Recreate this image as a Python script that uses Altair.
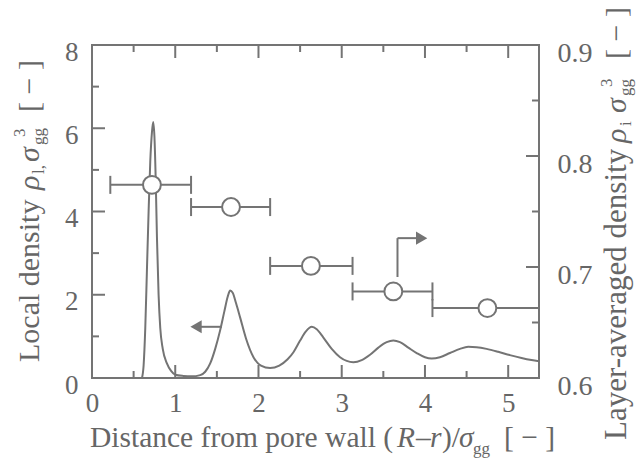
import altair as alt
import pandas as pd

# ---- local density profile (left axis) ----
dist = [0.60, 0.62, 0.64, 0.66, 0.68, 0.70, 0.72, 0.735, 0.75, 0.765, 0.78, 0.80,
        0.82, 0.85, 0.90, 0.95, 1.00, 1.10, 1.20, 1.30, 1.36, 1.42, 1.48, 1.54,
        1.59, 1.63, 1.66, 1.69, 1.73, 1.78, 1.85, 1.94, 2.03, 2.14, 2.25, 2.35,
        2.42, 2.50, 2.57, 2.64, 2.70, 2.78, 2.88, 2.98, 3.06, 3.14, 3.24, 3.34,
        3.44, 3.54, 3.62, 3.70, 3.80, 3.90, 4.00, 4.08, 4.18, 4.30, 4.42, 4.52,
        4.62, 4.74, 4.88, 5.02, 5.16, 5.28, 5.37]
local_density = [0.0, 0.3, 1.2, 2.6, 4.0, 5.2, 5.9, 6.15, 5.8, 4.8, 3.4, 2.0,
                 1.2, 0.7, 0.35, 0.17, 0.08, 0.05, 0.04, 0.07, 0.15, 0.35, 0.7, 1.15,
                 1.6, 1.95, 2.1, 2.05, 1.8, 1.45, 0.95, 0.5, 0.3, 0.24, 0.3, 0.45,
                 0.62, 0.9, 1.12, 1.23, 1.17, 0.97, 0.7, 0.5, 0.41, 0.38, 0.43, 0.56,
                 0.73, 0.86, 0.9, 0.86, 0.73, 0.6, 0.5, 0.47, 0.5, 0.6, 0.7, 0.75,
                 0.74, 0.7, 0.63, 0.55, 0.48, 0.43, 0.40]

# ---- layer-averaged density (right axis) ----
layer_center = [0.72, 1.67, 2.63, 3.62, 4.75]
layer_low = [0.22, 1.19, 2.14, 3.13, 4.09]
layer_high = [1.19, 2.14, 3.13, 4.09, 5.37]
layer_density = [0.774, 0.754, 0.701, 0.678, 0.663]

# ---- arrows pointing to the axis each series belongs to ----
left_arrow_x = [1.56, 1.28]
left_arrow_y = 1.23
left_head_x = 1.25
right_arrow_x = 3.67
right_arrow_y = [0.691, 0.726]
right_arrow_end = 3.93
right_head_x = 3.96

# ---- axis ticks ----
x_ticks = [0, 1, 2, 3, 4, 5]
x_minor = [0.5, 1.5, 2.5, 3.5, 4.5]
yl_ticks = [0, 2, 4, 6, 8]
yl_minor = [1, 3, 5, 7]
yr_ticks = [0.6, 0.7, 0.8, 0.9]
yr_minor = [0.65, 0.75, 0.85]

W, H = 447, 333
INK = "#747474"
TXT = "#666666"
FONT = "Liberation Serif"
MAJ, MIN = 13, 7

xs = alt.Scale(domain=[0, 5.37], nice=False, zero=False)
yls = alt.Scale(domain=[0, 8], nice=False, zero=True)
yrs = alt.Scale(domain=[0.6, 0.9], nice=False, zero=False)

xax = alt.Axis(values=x_ticks, format="d", ticks=False, tickSize=0, domain=False,
               grid=False, title=None, labelFont=FONT, labelFontSize=27,
               labelColor=TXT, labelPadding=12, labelFlush=False,
               labelOverlap=False)
ylax = alt.Axis(values=yl_ticks, format="d", orient="left", ticks=False, tickSize=0,
                domain=False, grid=False, title=None, labelFont=FONT,
                labelFontSize=27, labelColor=TXT, labelPadding=14, labelOffset=7,
                labelFlush=False, labelOverlap=False)
yrax = alt.Axis(values=yr_ticks, format=".1f", orient="right", ticks=False,
                tickSize=0, domain=False, grid=False, title=None, labelFont=FONT,
                labelFontSize=28, labelColor=TXT, labelPadding=18, labelOffset=8,
                labelFlush=False, labelOverlap=False)


def X(f):
    return alt.X(f, type="quantitative", scale=xs, axis=xax)


def YL(f):
    return alt.Y(f, type="quantitative", scale=yls, axis=ylax)


def YR(f):
    return alt.Y(f, type="quantitative", scale=yrs, axis=yrax)


profile = pd.DataFrame({"d": dist, "rho": local_density})
layers = pd.DataFrame({"c": layer_center, "lo": layer_low, "hi": layer_high,
                       "rho": layer_density})

curve = alt.Chart(profile).mark_line(color=INK, strokeWidth=2,
                                     interpolate="monotone").encode(
    x=X("d"), y=YL("rho"))

la = pd.DataFrame({"x0": [left_arrow_x[0]], "x1": [left_arrow_x[1]],
                   "hx": [left_head_x], "y": [left_arrow_y]})
left_shaft = alt.Chart(la).mark_rule(color=INK, strokeWidth=2).encode(
    x=X("x0"), x2="x1", y=YL("y"))
left_head = alt.Chart(la).mark_point(shape="triangle-left", filled=True,
                                     color=INK, opacity=1, size=170).encode(
    x=X("hx"), y=YL("y"))


def tick_rules(vals, length, side):
    df = pd.DataFrame({"v": vals})
    base = alt.Chart(df).mark_rule(color=INK, strokeWidth=2)
    if side == "bottom":
        return base.encode(x=X("v"), y=alt.value(H), y2=alt.value(H - length))
    if side == "top":
        return base.encode(x=X("v"), y=alt.value(0), y2=alt.value(length))
    if side == "left":
        return base.encode(y=YL("v"), x=alt.value(0), x2=alt.value(length))
    return base.encode(y=YR("v"), x=alt.value(W - length), x2=alt.value(W))


def label(text, x, y, size, italic=False, angle=0):
    props = dict(align="left", baseline="alphabetic", font=FONT, fontSize=size,
                 color=TXT, angle=angle)
    if italic:
        props["fontStyle"] = "italic"
    return alt.Chart(pd.DataFrame({"t": [text]})).mark_text(**props).encode(
        text="t:N", x=alt.value(x), y=alt.value(y))


OX, OY = 92, 45  # plot origin inside the page

titles = [
    # bottom axis title
    label("Distance from pore wall (", 90 - OX, 447 - OY, 29.5),
    label("R", 397 - OX, 447 - OY, 29.5, italic=True),
    label("–", 416 - OX, 447 - OY, 29.5),
    label("r", 430 - OX, 447 - OY, 29.5, italic=True),
    label(")/", 442 - OX, 447 - OY, 29.5),
    label("σ", 459 - OX, 447 - OY, 29.5, italic=True),
    label("gg", 473 - OX, 454 - OY, 17),
    label("[ − ]", 504 - OX, 447 - OY, 29.5),
    # left axis title (reads upward)
    label("Local density", 39 - OX, 362 - OY, 30, angle=270),
    label("ρ", 39 - OX, 190 - OY, 30, italic=True, angle=270),
    label("l,", 44 - OX, 174 - OY, 17, angle=270),
    label("σ", 39 - OX, 162 - OY, 30, italic=True, angle=270),
    label("gg", 44 - OX, 145 - OY, 17, angle=270),
    label("3", 25 - OX, 137 - OY, 17, angle=270),
    label("[ − ]", 39 - OX, 112 - OY, 30, angle=270),
    # right axis title (reads upward)
    label("Layer-averaged density", 626 - OX, 440 - OY, 31, angle=270),
    label("ρ", 626 - OX, 143 - OY, 30, italic=True, angle=270),
    label("i", 631 - OX, 126 - OY, 17, angle=270),
    label("σ", 626 - OX, 113 - OY, 30, italic=True, angle=270),
    label("gg", 631 - OX, 96 - OY, 17, angle=270),
    label("3", 612 - OX, 87 - OY, 17, angle=270),
    label("[ − ]", 626 - OX, 59 - OY, 30, angle=270),
]

left_part = alt.layer(
    curve, left_shaft, left_head,
    tick_rules(x_ticks, MAJ, "bottom"), tick_rules(x_minor, MIN, "bottom"),
    tick_rules(x_ticks, MAJ, "top"), tick_rules(x_minor, MIN, "top"),
    tick_rules(yl_ticks[1:-1], MAJ, "left"), tick_rules(yl_minor, MIN, "left"),
    *titles,
)

err = alt.Chart(layers).mark_rule(color=INK, strokeWidth=2).encode(
    x=X("lo"), x2="hi", y=YR("rho"))
cap_lo = alt.Chart(layers).mark_tick(orient="vertical", color=INK, thickness=2,
                                     size=18, opacity=1).encode(
    x=X("lo"), y=YR("rho"))
cap_hi = alt.Chart(layers).mark_tick(orient="vertical", color=INK, thickness=2,
                                     size=18, opacity=1).encode(
    x=X("hi"), y=YR("rho"))
circles = alt.Chart(layers).mark_point(shape="circle", filled=False, fill="white",
                                       fillOpacity=1, stroke=INK, strokeWidth=2,
                                       opacity=1, size=320).encode(
    x=X("c"), y=YR("rho"))

ra = pd.DataFrame({"x": [right_arrow_x], "y0": [right_arrow_y[0]],
                   "y1": [right_arrow_y[1]], "xe": [right_arrow_end],
                   "hx": [right_head_x]})
right_up = alt.Chart(ra).mark_rule(color=INK, strokeWidth=2).encode(
    x=X("x"), y=YR("y0"), y2="y1")
right_over = alt.Chart(ra).mark_rule(color=INK, strokeWidth=2).encode(
    x=X("x"), x2="xe", y=YR("y1"))
right_head = alt.Chart(ra).mark_point(shape="triangle-right", filled=True,
                                      color=INK, opacity=1, size=170).encode(
    x=X("hx"), y=YR("y1"))

right_part = alt.layer(
    err, cap_lo, cap_hi, circles, right_up, right_over, right_head,
    tick_rules(yr_ticks[1:-1], MAJ, "right"), tick_rules(yr_minor, MIN, "right"),
)

chart = alt.layer(left_part, right_part).resolve_scale(y="independent").properties(
    width=W, height=H,
    padding={"left": OX, "top": OY, "right": 640 - OX - W, "bottom": 463 - OY - H},
    autosize=alt.AutoSizeParams(type="none"),
    background="white",
).configure_view(stroke=INK, strokeWidth=2)

chart.save("out.html", embed_options={"renderer": "svg", "actions": False})
